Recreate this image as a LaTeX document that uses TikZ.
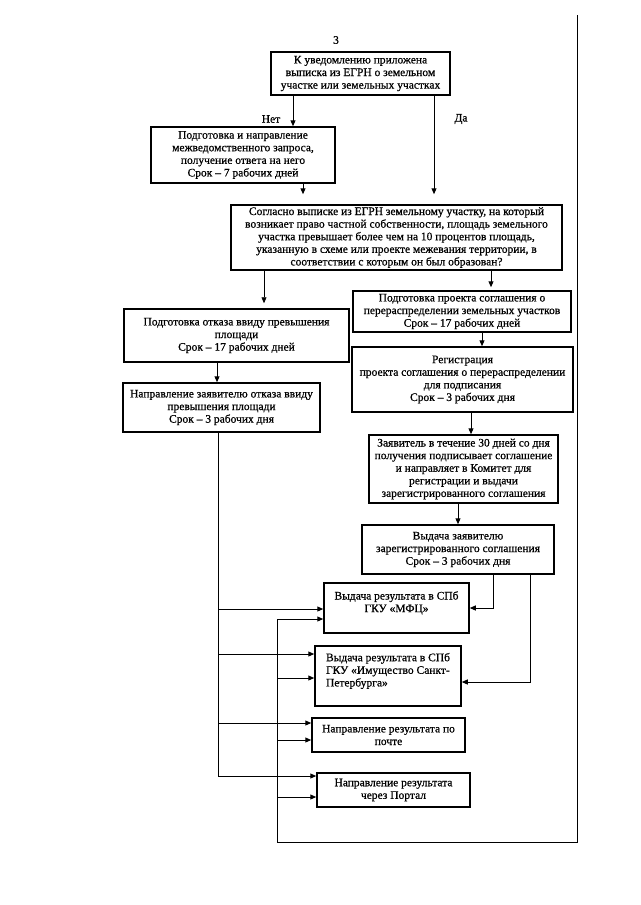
\documentclass[tikz,border=0pt]{standalone}
\usepackage{fontspec}
\setmainfont{Liberation Serif}[FakeBold=0.7]
\usetikzlibrary{arrows.meta}
\begin{document}
\begin{tikzpicture}[x=1pt,y=-1pt,
  txt/.style={font=\fontsize{11.5}{12.6}\selectfont},
  box/.style={draw, line width=1.5pt, align=center, inner sep=2pt, txt},
  conn/.style={line width=1pt},
  arr/.style={conn, -{Triangle[length=6pt,width=5pt]}},
]
\useasboundingbox (0,0) rectangle (640,905);

\node[txt] (num) at (336,40) {3};

\node[box, minimum width=179pt, minimum height=43pt] (b1) at (360.5,73.5)
 {К уведомлению приложена\\выписка из ЕГРН о земельном\\участке или земельных участках};
\node[box, minimum width=184pt, minimum height=56pt] (b2) at (243,155)
 {Подготовка и направление\\межведомственного запроса,\\получение ответа на него\\Срок – 7 рабочих дней};
\node[box, minimum width=331pt, minimum height=65pt] (b3) at (396.5,237.5)
 {Согласно выписке из ЕГРН земельному участку, на который\\возникает право частной собственности, площадь земельного\\участка превышает более чем на 10 процентов площадь,\\указанную в схеме или проекте межевания территории, в\\соответствии с которым он был образован?};
\node[box, minimum width=225pt, minimum height=53pt] (b4) at (236.5,335.5)
 {Подготовка отказа ввиду превышения\\площади\\Срок – 17 рабочих дней};
\node[box, minimum width=197pt, minimum height=49pt] (b5) at (221.5,407.5)
 {Направление заявителю отказа ввиду\\превышения площади\\Срок – 3 рабочих дня};
\node[box, minimum width=218pt, minimum height=41pt] (b6) at (462,311.5)
 {Подготовка проекта соглашения о\\перераспределении земельных участков\\Срок – 17 рабочих дней};
\node[box, minimum width=221pt, minimum height=65pt] (b7) at (462.5,379.5)
 {Регистрация\\проекта соглашения о перераспределении\\для подписания\\Срок – 3 рабочих дня};
\node[box, minimum width=189pt, minimum height=68pt] (b8) at (463.5,469)
 {Заявитель в течение 30 дней со дня\\получения подписывает соглашение\\и направляет в Комитет для\\регистрации и выдачи\\зарегистрированного соглашения};
\node[box, minimum width=192pt, minimum height=49pt] (b9) at (458,549.5)
 {Выдача заявителю\\зарегистрированного соглашения\\Срок – 3 рабочих дня};
\node[box, minimum width=145pt, minimum height=50pt] (mfc) at (396.5,608)
 {Выдача результата в СПб\\ГКУ «МФЦ»\\~};
\node[box, align=left, minimum width=146pt, minimum height=60pt] (imu) at (388,676)
 {Выдача результата в СПб\\ГКУ «Имущество Санкт-\\Петербурга»\\~};
\node[box, minimum width=153pt, minimum height=34pt] (post) at (388.5,735)
 {Направление результата по\\почте};
\node[box, minimum width=153pt, minimum height=34pt] (portal) at (393.5,790)
 {Направление результата\\через Портал};

\node[txt] (net) at (271,119) {Нет};
\node[txt] (da) at (461,119) {Да};

% top flow
\draw[arr] (b1.south -| 293,0) -- (b2.north -| 293,0);
\draw[arr, shorten >=10pt] (b1.south -| 434,0) -- (b3.north -| 434,0);
\draw[arr, shorten >=10pt] (b2.south -| 303,0) -- (b3.north -| 303,0);
\draw[arr, shorten >=5pt, line width=0.7pt] (b3.south -| 264,0) -- (b4.north -| 264,0);
\draw[arr, shorten >=3pt] (b3.south -| 491,0) -- (b6.north -| 491,0);
\draw[arr] (b4.south -| 217,0) -- (b5.north -| 217,0);
\draw[arr] (b6.south -| 482,0) -- (b7.north -| 482,0);
\draw[arr] (b7.south -| 471,0) -- (b8.north -| 471,0);
\draw[arr] (b8.south -| 458,0) -- (b9.north -| 458,0);

% from b9 to result boxes
\draw[arr] (b9.south -| 493,0) |- (mfc.east);
\draw[arr] (b9.south -| 530,0) |- ([yshift=-6pt]imu.east);

% trunk 1 from refusal
\coordinate (t1a) at (218,609);
\coordinate (t1b) at (218,654);
\coordinate (t1c) at (218,723);
\coordinate (t1d) at (218,776);
\draw[conn] (b5.south -| 218,0) -- (t1d);
\draw[arr] (t1a) -- (mfc.west |- t1a);
\draw[arr] (t1b) -- (imu.west |- t1b);
\draw[arr] (t1c) -- (post.west |- t1c);
\draw[arr] (t1d) -- (portal.west |- t1d);

% trunk 2 (loop)
\coordinate (t2a) at (277,619);
\coordinate (t2b) at (277,678);
\coordinate (t2c) at (277,740);
\coordinate (t2d) at (277,797);
\coordinate (t2e) at (277,842);
\coordinate (t2f) at (577,842);
\coordinate (t2g) at (577,15);
\draw[conn] (t2a) -- (t2e) -- (t2f) -- (t2g);
\draw[arr] (t2a) -- (mfc.west |- t2a);
\draw[arr] (t2b) -- (imu.west |- t2b);
\draw[arr] (t2c) -- (post.west |- t2c);
\draw[arr] (t2d) -- (portal.west |- t2d);
\end{tikzpicture}
\end{document}
